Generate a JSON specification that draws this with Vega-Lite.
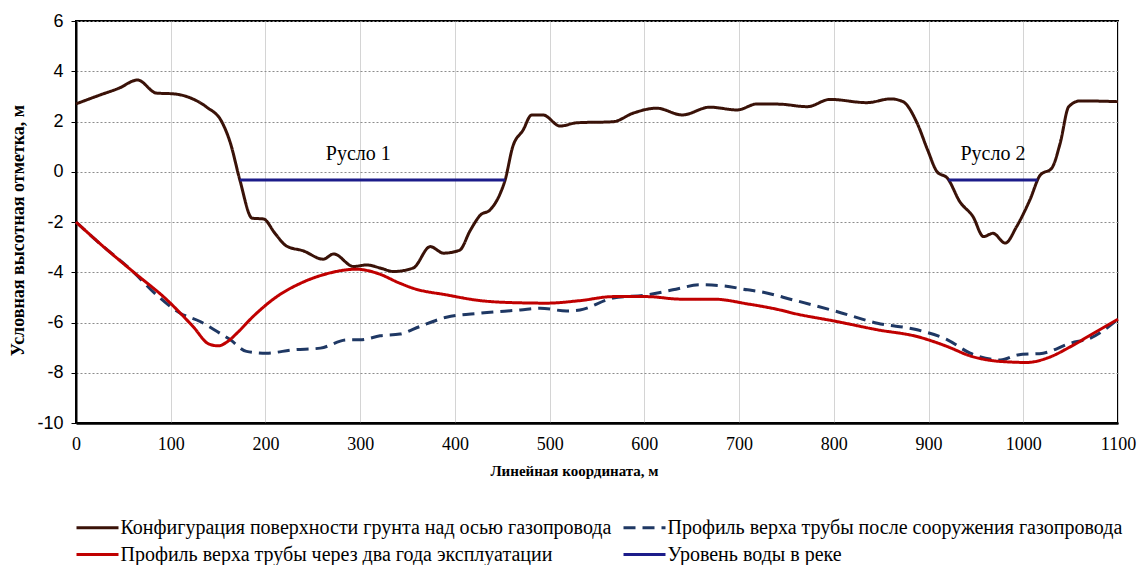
{
  "$schema": "https://vega.github.io/schema/vega-lite/v6.json",
  "autosize": {"type": "none"},
  "padding": {"left": 76, "top": 21, "right": 23, "bottom": 142},
  "width": 1042,
  "height": 402,
  "background": "white",
  "config": {
    "font": "Liberation Serif",
    "view": {"stroke": "black", "strokeWidth": 2}
  },
  "datasets": {
    "lines": [
      {"x": 0, "y": 2.70, "series": "Конфигурация поверхности грунта над осью газопровода", "seg": "g"},
      {"x": 25, "y": 3.05, "series": "Конфигурация поверхности грунта над осью газопровода", "seg": "g"},
      {"x": 45, "y": 3.32, "series": "Конфигурация поверхности грунта над осью газопровода", "seg": "g"},
      {"x": 65, "y": 3.65, "series": "Конфигурация поверхности грунта над осью газопровода", "seg": "g"},
      {"x": 85, "y": 3.13, "series": "Конфигурация поверхности грунта над осью газопровода", "seg": "g"},
      {"x": 103, "y": 3.10, "series": "Конфигурация поверхности грунта над осью газопровода", "seg": "g"},
      {"x": 120, "y": 2.95, "series": "Конфигурация поверхности грунта над осью газопровода", "seg": "g"},
      {"x": 138, "y": 2.57, "series": "Конфигурация поверхности грунта над осью газопровода", "seg": "g"},
      {"x": 154, "y": 1.98, "series": "Конфигурация поверхности грунта над осью газопровода", "seg": "g"},
      {"x": 163, "y": 1.14, "series": "Конфигурация поверхности грунта над осью газопровода", "seg": "g"},
      {"x": 173, "y": -0.33, "series": "Конфигурация поверхности грунта над осью газопровода", "seg": "g"},
      {"x": 186, "y": -1.85, "series": "Конфигурация поверхности грунта над осью газопровода", "seg": "g"},
      {"x": 198, "y": -1.88, "series": "Конфигурация поверхности грунта над осью газопровода", "seg": "g"},
      {"x": 210, "y": -2.45, "series": "Конфигурация поверхности грунта над осью газопровода", "seg": "g"},
      {"x": 222, "y": -2.95, "series": "Конфигурация поверхности грунта над осью газопровода", "seg": "g"},
      {"x": 240, "y": -3.15, "series": "Конфигурация поверхности грунта над осью газопровода", "seg": "g"},
      {"x": 261, "y": -3.48, "series": "Конфигурация поверхности грунта над осью газопровода", "seg": "g"},
      {"x": 272, "y": -3.27, "series": "Конфигурация поверхности грунта над осью газопровода", "seg": "g"},
      {"x": 293, "y": -3.77, "series": "Конфигурация поверхности грунта над осью газопровода", "seg": "g"},
      {"x": 307, "y": -3.71, "series": "Конфигурация поверхности грунта над осью газопровода", "seg": "g"},
      {"x": 321, "y": -3.83, "series": "Конфигурация поверхности грунта над осью газопровода", "seg": "g"},
      {"x": 335, "y": -3.97, "series": "Конфигурация поверхности грунта над осью газопровода", "seg": "g"},
      {"x": 356, "y": -3.83, "series": "Конфигурация поверхности грунта над осью газопровода", "seg": "g"},
      {"x": 374, "y": -2.98, "series": "Конфигурация поверхности грунта над осью газопровода", "seg": "g"},
      {"x": 388, "y": -3.24, "series": "Конфигурация поверхности грунта над осью газопровода", "seg": "g"},
      {"x": 405, "y": -3.12, "series": "Конфигурация поверхности грунта над осью газопровода", "seg": "g"},
      {"x": 416, "y": -2.35, "series": "Конфигурация поверхности грунта над осью газопровода", "seg": "g"},
      {"x": 427, "y": -1.72, "series": "Конфигурация поверхности грунта над осью газопровода", "seg": "g"},
      {"x": 437, "y": -1.52, "series": "Конфигурация поверхности грунта над осью газопровода", "seg": "g"},
      {"x": 448, "y": -0.85, "series": "Конфигурация поверхности грунта над осью газопровода", "seg": "g"},
      {"x": 453, "y": -0.33, "series": "Конфигурация поверхности грунта над осью газопровода", "seg": "g"},
      {"x": 461, "y": 0.99, "series": "Конфигурация поверхности грунта над осью газопровода", "seg": "g"},
      {"x": 472, "y": 1.66, "series": "Конфигурация поверхности грунта над осью газопровода", "seg": "g"},
      {"x": 481, "y": 2.26, "series": "Конфигурация поверхности грунта над осью газопровода", "seg": "g"},
      {"x": 493, "y": 2.26, "series": "Конфигурация поверхности грунта над осью газопровода", "seg": "g"},
      {"x": 511, "y": 1.82, "series": "Конфигурация поверхности грунта над осью газопровода", "seg": "g"},
      {"x": 529, "y": 1.95, "series": "Конфигурация поверхности грунта над осью газопровода", "seg": "g"},
      {"x": 567, "y": 1.99, "series": "Конфигурация поверхности грунта над осью газопровода", "seg": "g"},
      {"x": 588, "y": 2.33, "series": "Конфигурация поверхности грунта над осью газопровода", "seg": "g"},
      {"x": 613, "y": 2.53, "series": "Конфигурация поверхности грунта над осью газопровода", "seg": "g"},
      {"x": 640, "y": 2.26, "series": "Конфигурация поверхности грунта над осью газопровода", "seg": "g"},
      {"x": 669, "y": 2.57, "series": "Конфигурация поверхности грунта над осью газопровода", "seg": "g"},
      {"x": 698, "y": 2.46, "series": "Конфигурация поверхности грунта над осью газопровода", "seg": "g"},
      {"x": 719, "y": 2.70, "series": "Конфигурация поверхности грунта над осью газопровода", "seg": "g"},
      {"x": 743, "y": 2.69, "series": "Конфигурация поверхности грунта над осью газопровода", "seg": "g"},
      {"x": 772, "y": 2.59, "series": "Конфигурация поверхности грунта над осью газопровода", "seg": "g"},
      {"x": 796, "y": 2.88, "series": "Конфигурация поверхности грунта над осью газопровода", "seg": "g"},
      {"x": 835, "y": 2.75, "series": "Конфигурация поверхности грунта над осью газопровода", "seg": "g"},
      {"x": 860, "y": 2.90, "series": "Конфигурация поверхности грунта над осью газопровода", "seg": "g"},
      {"x": 873, "y": 2.79, "series": "Конфигурация поверхности грунта над осью газопровода", "seg": "g"},
      {"x": 888, "y": 1.93, "series": "Конфигурация поверхности грунта над осью газопровода", "seg": "g"},
      {"x": 899, "y": 0.87, "series": "Конфигурация поверхности грунта над осью газопровода", "seg": "g"},
      {"x": 909, "y": 0.0, "series": "Конфигурация поверхности грунта над осью газопровода", "seg": "g"},
      {"x": 920, "y": -0.26, "series": "Конфигурация поверхности грунта над осью газопровода", "seg": "g"},
      {"x": 933, "y": -1.19, "series": "Конфигурация поверхности грунта над осью газопровода", "seg": "g"},
      {"x": 947, "y": -1.79, "series": "Конфигурация поверхности грунта над осью газопровода", "seg": "g"},
      {"x": 958, "y": -2.58, "series": "Конфигурация поверхности грунта над осью газопровода", "seg": "g"},
      {"x": 968, "y": -2.45, "series": "Конфигурация поверхности грунта над осью газопровода", "seg": "g"},
      {"x": 981, "y": -2.84, "series": "Конфигурация поверхности грунта над осью газопровода", "seg": "g"},
      {"x": 993, "y": -2.18, "series": "Конфигурация поверхности грунта над осью газопровода", "seg": "g"},
      {"x": 1007, "y": -1.12, "series": "Конфигурация поверхности грунта над осью газопровода", "seg": "g"},
      {"x": 1018, "y": -0.13, "series": "Конфигурация поверхности грунта над осью газопровода", "seg": "g"},
      {"x": 1030, "y": 0.14, "series": "Конфигурация поверхности грунта над осью газопровода", "seg": "g"},
      {"x": 1039, "y": 1.14, "series": "Конфигурация поверхности грунта над осью газопровода", "seg": "g"},
      {"x": 1048, "y": 2.59, "series": "Конфигурация поверхности грунта над осью газопровода", "seg": "g"},
      {"x": 1060, "y": 2.82, "series": "Конфигурация поверхности грунта над осью газопровода", "seg": "g"},
      {"x": 1100, "y": 2.79, "series": "Конфигурация поверхности грунта над осью газопровода", "seg": "g"},

      {"x": 0, "y": -2.0, "series": "Профиль верха трубы после сооружения газопровода", "seg": "b"},
      {"x": 25, "y": -2.85, "series": "Профиль верха трубы после сооружения газопровода", "seg": "b"},
      {"x": 60, "y": -3.97, "series": "Профиль верха трубы после сооружения газопровода", "seg": "b"},
      {"x": 85, "y": -4.90, "series": "Профиль верха трубы после сооружения газопровода", "seg": "b"},
      {"x": 110, "y": -5.63, "series": "Профиль верха трубы после сооружения газопровода", "seg": "b"},
      {"x": 131, "y": -5.96, "series": "Профиль верха трубы после сооружения газопровода", "seg": "b"},
      {"x": 149, "y": -6.36, "series": "Профиль верха трубы после сооружения газопровода", "seg": "b"},
      {"x": 163, "y": -6.69, "series": "Профиль верха трубы после сооружения газопровода", "seg": "b"},
      {"x": 180, "y": -7.15, "series": "Профиль верха трубы после сооружения газопровода", "seg": "b"},
      {"x": 201, "y": -7.22, "series": "Профиль верха трубы после сооружения газопровода", "seg": "b"},
      {"x": 229, "y": -7.09, "series": "Профиль верха трубы после сооружения газопровода", "seg": "b"},
      {"x": 258, "y": -7.02, "series": "Профиль верха трубы после сооружения газопровода", "seg": "b"},
      {"x": 286, "y": -6.69, "series": "Профиль верха трубы после сооружения газопровода", "seg": "b"},
      {"x": 300, "y": -6.69, "series": "Профиль верха трубы после сооружения газопровода", "seg": "b"},
      {"x": 321, "y": -6.53, "series": "Профиль верха трубы после сооружения газопровода", "seg": "b"},
      {"x": 342, "y": -6.46, "series": "Профиль верха трубы после сооружения газопровода", "seg": "b"},
      {"x": 363, "y": -6.16, "series": "Профиль верха трубы после сооружения газопровода", "seg": "b"},
      {"x": 391, "y": -5.79, "series": "Профиль верха трубы после сооружения газопровода", "seg": "b"},
      {"x": 427, "y": -5.63, "series": "Профиль верха трубы после сооружения газопровода", "seg": "b"},
      {"x": 469, "y": -5.50, "series": "Профиль верха трубы после сооружения газопровода", "seg": "b"},
      {"x": 490, "y": -5.43, "series": "Профиль верха трубы после сооружения газопровода", "seg": "b"},
      {"x": 518, "y": -5.54, "series": "Профиль верха трубы после сооружения газопровода", "seg": "b"},
      {"x": 532, "y": -5.50, "series": "Профиль верха трубы после сооружения газопровода", "seg": "b"},
      {"x": 567, "y": -5.03, "series": "Профиль верха трубы после сооружения газопровода", "seg": "b"},
      {"x": 603, "y": -4.90, "series": "Профиль верха трубы после сооружения газопровода", "seg": "b"},
      {"x": 630, "y": -4.70, "series": "Профиль верха трубы после сооружения газопровода", "seg": "b"},
      {"x": 659, "y": -4.50, "series": "Профиль верха трубы после сооружения газопровода", "seg": "b"},
      {"x": 683, "y": -4.54, "series": "Профиль верха трубы после сооружения газопровода", "seg": "b"},
      {"x": 709, "y": -4.70, "series": "Профиль верха трубы после сооружения газопровода", "seg": "b"},
      {"x": 722, "y": -4.77, "series": "Профиль верха трубы после сооружения газопровода", "seg": "b"},
      {"x": 757, "y": -5.10, "series": "Профиль верха трубы после сооружения газопровода", "seg": "b"},
      {"x": 803, "y": -5.56, "series": "Профиль верха трубы после сооружения газопровода", "seg": "b"},
      {"x": 846, "y": -6.03, "series": "Профиль верха трубы после сооружения газопровода", "seg": "b"},
      {"x": 888, "y": -6.29, "series": "Профиль верха трубы после сооружения газопровода", "seg": "b"},
      {"x": 920, "y": -6.69, "series": "Профиль верха трубы после сооружения газопровода", "seg": "b"},
      {"x": 944, "y": -7.22, "series": "Профиль верха трубы после сооружения газопровода", "seg": "b"},
      {"x": 976, "y": -7.49, "series": "Профиль верха трубы после сооружения газопровода", "seg": "b"},
      {"x": 994, "y": -7.29, "series": "Профиль верха трубы после сооружения газопровода", "seg": "b"},
      {"x": 1021, "y": -7.22, "series": "Профиль верха трубы после сооружения газопровода", "seg": "b"},
      {"x": 1050, "y": -6.82, "series": "Профиль верха трубы после сооружения газопровода", "seg": "b"},
      {"x": 1071, "y": -6.62, "series": "Профиль верха трубы после сооружения газопровода", "seg": "b"},
      {"x": 1100, "y": -5.87, "series": "Профиль верха трубы после сооружения газопровода", "seg": "b"},

      {"x": 0, "y": -2.0, "series": "Профиль верха трубы через два года эксплуатации", "seg": "r"},
      {"x": 25, "y": -2.85, "series": "Профиль верха трубы через два года эксплуатации", "seg": "r"},
      {"x": 60, "y": -3.97, "series": "Профиль верха трубы через два года эксплуатации", "seg": "r"},
      {"x": 96, "y": -5.10, "series": "Профиль верха трубы через два года эксплуатации", "seg": "r"},
      {"x": 124, "y": -6.18, "series": "Профиль верха трубы через два года эксплуатации", "seg": "r"},
      {"x": 140, "y": -6.85, "series": "Профиль верха трубы через два года эксплуатации", "seg": "r"},
      {"x": 150, "y": -6.93, "series": "Профиль верха трубы через два года эксплуатации", "seg": "r"},
      {"x": 160, "y": -6.76, "series": "Профиль верха трубы через два года эксплуатации", "seg": "r"},
      {"x": 170, "y": -6.42, "series": "Профиль верха трубы через два года эксплуатации", "seg": "r"},
      {"x": 187, "y": -5.76, "series": "Профиль верха трубы через два года эксплуатации", "seg": "r"},
      {"x": 212, "y": -4.97, "series": "Профиль верха трубы через два года эксплуатации", "seg": "r"},
      {"x": 237, "y": -4.44, "series": "Профиль верха трубы через два года эксплуатации", "seg": "r"},
      {"x": 261, "y": -4.10, "series": "Профиль верха трубы через два года эксплуатации", "seg": "r"},
      {"x": 296, "y": -3.88, "series": "Профиль верха трубы через два года эксплуатации", "seg": "r"},
      {"x": 318, "y": -4.04, "series": "Профиль верха трубы через два года эксплуатации", "seg": "r"},
      {"x": 342, "y": -4.44, "series": "Профиль верха трубы через два года эксплуатации", "seg": "r"},
      {"x": 356, "y": -4.64, "series": "Профиль верха трубы через два года эксплуатации", "seg": "r"},
      {"x": 391, "y": -4.90, "series": "Профиль верха трубы через два года эксплуатации", "seg": "r"},
      {"x": 427, "y": -5.13, "series": "Профиль верха трубы через два года эксплуатации", "seg": "r"},
      {"x": 462, "y": -5.21, "series": "Профиль верха трубы через два года эксплуатации", "seg": "r"},
      {"x": 497, "y": -5.23, "series": "Профиль верха трубы через два года эксплуатации", "seg": "r"},
      {"x": 532, "y": -5.13, "series": "Профиль верха трубы через два года эксплуатации", "seg": "r"},
      {"x": 567, "y": -4.97, "series": "Профиль верха трубы через два года эксплуатации", "seg": "r"},
      {"x": 603, "y": -4.97, "series": "Профиль верха трубы через два года эксплуатации", "seg": "r"},
      {"x": 638, "y": -5.07, "series": "Профиль верха трубы через два года эксплуатации", "seg": "r"},
      {"x": 673, "y": -5.07, "series": "Профиль верха трубы через два года эксплуатации", "seg": "r"},
      {"x": 709, "y": -5.26, "series": "Профиль верха трубы через два года эксплуатации", "seg": "r"},
      {"x": 743, "y": -5.50, "series": "Профиль верха трубы через два года эксплуатации", "seg": "r"},
      {"x": 757, "y": -5.63, "series": "Профиль верха трубы через два года эксплуатации", "seg": "r"},
      {"x": 803, "y": -5.96, "series": "Профиль верха трубы через два года эксплуатации", "seg": "r"},
      {"x": 846, "y": -6.29, "series": "Профиль верха трубы через два года эксплуатации", "seg": "r"},
      {"x": 888, "y": -6.56, "series": "Профиль верха трубы через два года эксплуатации", "seg": "r"},
      {"x": 920, "y": -6.96, "series": "Профиль верха трубы через два года эксплуатации", "seg": "r"},
      {"x": 944, "y": -7.33, "series": "Профиль верха трубы через два года эксплуатации", "seg": "r"},
      {"x": 976, "y": -7.55, "series": "Профиль верха трубы через два года эксплуатации", "seg": "r"},
      {"x": 1004, "y": -7.59, "series": "Профиль верха трубы через два года эксплуатации", "seg": "r"},
      {"x": 1025, "y": -7.42, "series": "Профиль верха трубы через два года эксплуатации", "seg": "r"},
      {"x": 1050, "y": -6.96, "series": "Профиль верха трубы через два года эксплуатации", "seg": "r"},
      {"x": 1074, "y": -6.43, "series": "Профиль верха трубы через два года эксплуатации", "seg": "r"},
      {"x": 1100, "y": -5.87, "series": "Профиль верха трубы через два года эксплуатации", "seg": "r"},

      {"x": 173, "y": -0.33, "series": "Уровень воды в реке", "seg": "w1"},
      {"x": 453, "y": -0.33, "series": "Уровень воды в реке", "seg": "w1"},
      {"x": 921, "y": -0.33, "series": "Уровень воды в реке", "seg": "w2"},
      {"x": 1015, "y": -0.33, "series": "Уровень воды в реке", "seg": "w2"}
    ],
    "labels": [
      {"x": 298, "y": 0.7, "label": "Русло 1"},
      {"x": 968, "y": 0.7, "label": "Русло 2"}
    ]
  },
  "layer": [
    {
      "data": {"name": "lines"},
      "mark": {"type": "line", "interpolate": "monotone", "strokeWidth": 3},
      "encoding": {
        "x": {
          "field": "x", "type": "quantitative",
          "scale": {"domain": [0, 1100], "nice": false, "zero": false},
          "axis": {
            "values": [0, 100, 200, 300, 400, 500, 600, 700, 800, 900, 1000, 1100],
            "labelExpr": "'' + datum.value",
            "title": "Линейная координата, м",
            "titleFont": "Liberation Serif", "titleFontSize": 15, "titleFontWeight": "bold", "titleColor": "black",
            "titleX": 498, "titleY": 47, "titleBaseline": "middle", "titleAnchor": "middle",
            "labelFont": "Liberation Serif", "labelFontSize": 18, "labelColor": "black", "labelPadding": 12,
            "labelFlush": false, "labelOverlap": false,
            "ticks": false,
            "domainColor": "black", "domainWidth": 2.5,
            "gridColor": "#d4d4d4", "gridWidth": 1
          }
        },
        "y": {
          "field": "y", "type": "quantitative",
          "scale": {"domain": [-10, 6], "nice": false, "zero": false},
          "axis": {
            "values": [-10, -8, -6, -4, -2, 0, 2, 4, 6],
            "labelExpr": "'' + datum.value",
            "title": "Условная высотная отметка, м",
            "titleFont": "Liberation Serif", "titleFontSize": 18, "titleFontWeight": "bold", "titleColor": "black",
            "titleX": -58, "titleY": 209, "titleBaseline": "middle", "titleAnchor": "middle",
            "labelFont": "Liberation Sans", "labelFontSize": 18, "labelColor": "black", "labelPadding": 8,
            "labelFlush": false, "labelOverlap": false,
            "tickSize": 5, "tickColor": "black", "tickWidth": 1,
            "domainColor": "black", "domainWidth": 2,
            "gridColor": "#8c8c8c", "gridDash": [2, 2], "gridWidth": 1
          }
        },
        "color": {
          "field": "series", "type": "nominal",
          "scale": {
            "domain": [
              "Конфигурация поверхности грунта над осью газопровода",
              "Профиль верха трубы через два года эксплуатации",
              "Профиль верха трубы после сооружения газопровода",
              "Уровень воды в реке"
            ],
            "range": ["#3a1208", "#c00000", "#1f3864", "#1c1c8a"]
          },
          "legend": {
            "title": null,
            "orient": "none",
            "legendX": 6.5,
            "legendY": 490,
            "columns": 2,
            "columnPadding": 6,
            "rowPadding": 0,
            "padding": 0,
            "symbolType": "M-1.5,0H1.3",
            "symbolSize": 900,
            "symbolStrokeWidth": 3,
            "labelFont": "Liberation Serif",
            "labelFontSize": 20,
            "labelColor": "black",
            "labelLimit": 0,
            "labelOffset": 5
          }
        },
        "strokeDash": {
          "field": "series", "type": "nominal",
          "scale": {
            "domain": [
              "Конфигурация поверхности грунта над осью газопровода",
              "Профиль верха трубы через два года эксплуатации",
              "Профиль верха трубы после сооружения газопровода",
              "Уровень воды в реке"
            ],
            "range": [[1, 0], [1, 0], [12, 7], [1, 0]]
          }
        },
        "detail": {"field": "seg", "type": "nominal"}
      }
    },
    {
      "data": {"name": "labels"},
      "mark": {"type": "text", "font": "Liberation Serif", "fontSize": 20, "color": "black", "align": "center", "baseline": "middle"},
      "encoding": {
        "x": {"field": "x", "type": "quantitative"},
        "y": {"field": "y", "type": "quantitative"},
        "text": {"field": "label", "type": "nominal"}
      }
    }
  ]
}
